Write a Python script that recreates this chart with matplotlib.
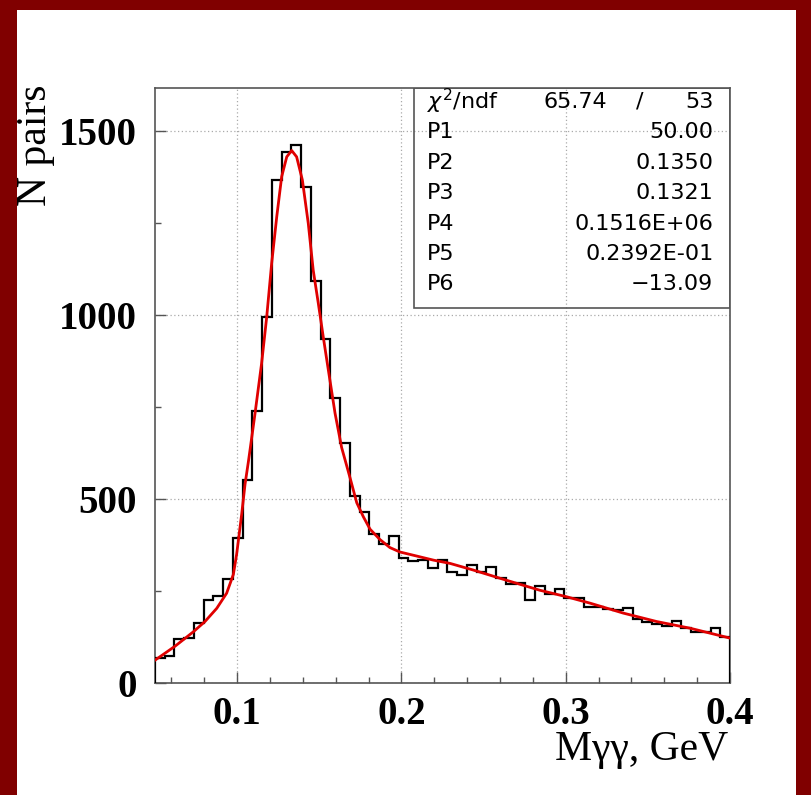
"""Two-photon invariant mass histogram with fitted curve (ROOT-style figure)."""
import matplotlib.pyplot as plt
import numpy as np
from matplotlib.patches import Rectangle
from matplotlib.ticker import MultipleLocator

# histogram: 59 bins between 0.05 and 0.40 GeV
x_lo, x_hi = 0.05, 0.40
counts = [67, 73, 119, 122, 164, 226, 236, 282, 395, 552,
          739, 995, 1367, 1444, 1462, 1347, 1093, 934, 775, 651,
          507, 465, 406, 378, 400, 339, 332, 334, 312, 333,
          302, 293, 322, 302, 316, 284, 269, 273, 226, 264,
          242, 255, 232, 230, 207, 206, 202, 199, 204, 173,
          165, 160, 156, 168, 149, 139, 138, 150, 126]

# fitted curve
fit_x = [0.0500, 0.0622, 0.0733, 0.0804, 0.0876, 0.0936, 0.0977, 0.0997,
         0.1028, 0.1048, 0.1068, 0.1078, 0.1109, 0.1149, 0.1180, 0.1210,
         0.1241, 0.1271, 0.1302, 0.1332, 0.1362, 0.1397, 0.1433, 0.1463,
         0.1494, 0.1524, 0.1555, 0.1596, 0.1636, 0.1687, 0.1728, 0.1768,
         0.1809, 0.1869, 0.1930, 0.1991, 0.2093, 0.2194, 0.2296, 0.2437,
         0.2641, 0.2843, 0.3000, 0.3148, 0.3350, 0.3554, 0.3756, 0.4000]
fit_y = [62, 100, 139, 167, 203, 244, 295, 350,
         460, 540, 600, 632, 733, 869, 995, 1140,
         1267, 1376, 1430, 1447, 1430, 1367, 1249, 1122,
         1032, 941, 851, 733, 640, 558, 490, 452,
         418, 390, 368, 356, 345, 334, 325, 307,
         279, 252, 235, 217, 190, 167, 149, 122]

stat_names = ["P1", "P2", "P3", "P4", "P5", "P6"]
stat_values = ["50.00", "0.1350", "0.1321", "0.1516E+06", "0.2392E-01", "\u221213.09"]
chi2, ndf = "65.74", "53"

x_ticks = [0.1, 0.2, 0.3, 0.4]
y_ticks = [0, 500, 1000, 1500]

W, H = 812, 795
fig = plt.figure(figsize=(W / 100, H / 100), dpi=100)
fig.patch.set_facecolor("white")
border = "#800000"
for x0, y0, w, h in [(0, 0, 17 / W, 1), (0, 1 - 10 / H, 1, 10 / H),
                     (1 - 16 / W, 0, 16 / W, 1)]:
    fig.patches.append(Rectangle((x0, y0), w, h, transform=fig.transFigure,
                                 facecolor=border, edgecolor="none", zorder=0))

ax = fig.add_axes([155 / W, 1 - 683 / H, 575 / W, 595 / H])
edges = np.linspace(x_lo, x_hi, len(counts) + 1)
ax.stairs(counts, edges, baseline=0, color="black", lw=1.6, zorder=3)
ax.plot(fit_x, fit_y, color="#e00000", lw=2.0, zorder=4)

ax.set_xlim(x_lo, x_hi)
ax.set_ylim(0, 1617)
ax.set_xticks(x_ticks, [f"{v:.1f}" for v in x_ticks])
ax.set_yticks(y_ticks, [str(v) for v in y_ticks])
ax.xaxis.set_minor_locator(MultipleLocator(0.02))
ax.yaxis.set_minor_locator(MultipleLocator(250))
ax.tick_params(which="major", direction="in", length=8, width=1, color="#555555",
               labelsize=28)
ax.tick_params(which="minor", direction="in", length=4.5, width=1, color="#555555")
ax.tick_params(axis="x", pad=9)
ax.tick_params(axis="y", pad=13)
for lab in ax.get_xticklabels() + ax.get_yticklabels():
    lab.set_family("Liberation Serif")
    lab.set_fontweight("bold")
ax.grid(True, which="major", color="#aaaaaa", lw=0.9, ls=(0, (1, 2)))
for sp in ax.spines.values():
    sp.set_color("#555555")
    sp.set_linewidth(1.2)

# statistics box
ax.add_patch(Rectangle((0.4504, 0.6303), 0.5496, 0.3697, transform=ax.transAxes,
                       fill=False, edgecolor="#555555", lw=1.2, zorder=5))
fs = 16
row0, step = 0.977, 0.0512
ax.text(0.4725, row0, r"$\chi^2$/ndf", transform=ax.transAxes, fontsize=fs,
        va="center", ha="left", zorder=6)
ax.text(0.675, row0, chi2, transform=ax.transAxes, fontsize=fs, va="center", ha="left")
ax.text(0.8435, row0, "/", transform=ax.transAxes, fontsize=fs, va="center", ha="center")
ax.text(0.971, row0, ndf, transform=ax.transAxes, fontsize=fs, va="center", ha="right")
for i, (name, val) in enumerate(zip(stat_names, stat_values), start=1):
    y = row0 - i * step
    ax.text(0.4725, y, name, transform=ax.transAxes, fontsize=fs, va="center", ha="left")
    ax.text(0.971, y, val, transform=ax.transAxes, fontsize=fs, va="center", ha="right")

fig.text(728 / W, 1 - 750 / H, "M\u03b3\u03b3, GeV", family="Liberation Serif",
         fontsize=30, ha="right", va="center")
fig.text(36 / W, 1 - 84 / H, "N pairs", family="Liberation Serif", fontsize=30,
         rotation=90, ha="center", va="top")

fig.savefig("out.png", dpi=100)
